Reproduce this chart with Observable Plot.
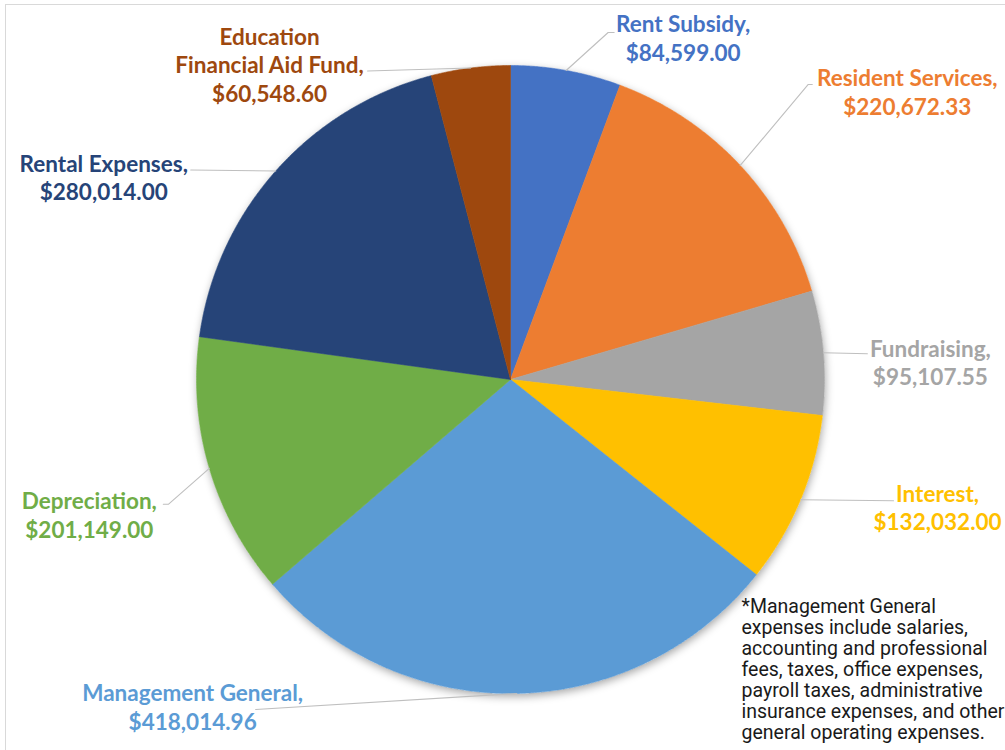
<!DOCTYPE html>
<html>
<head>
<meta charset="utf-8">
<script src="https://cdn.jsdelivr.net/npm/d3@7"></script>
<script src="https://cdn.jsdelivr.net/npm/@observablehq/plot@0.6"></script>
<style>
  html, body { margin: 0; padding: 0; background: #fff; }
  #wrap { position: relative; width: 1005px; height: 750px; overflow: hidden; }
  #border { position: absolute; left: 5px; top: 4px; width: 1010px; height: 760px;
            border-top: 1px solid #d9d9d9; border-left: 1px solid #d9d9d9; pointer-events: none; }
</style>
</head>
<body>
<div id="wrap"><div id="border"></div></div>
<script>
// ---- data ----
const categories = ["Rent Subsidy", "Resident Services", "Fundraising", "Interest",
  "Management General", "Depreciation", "Rental Expenses", "Education Financial Aid Fund"];
const values = [84599.00, 220672.33, 95107.55, 132032.00, 418014.96, 201149.00, 280014.00, 60548.60];
const labelNames = ["Rent Subsidy,", "Resident Services,", "Fundraising,", "Interest,",
  "Management General,", "Depreciation,", "Rental Expenses,", "Education\nFinancial Aid Fund,"];
const footnoteLines = [
  "*Management General",
  "expenses include salaries,",
  "accounting and professional",
  "fees, taxes, office expenses,",
  "payroll taxes, administrative",
  "insurance expenses, and other",
  "general operating expenses."
];

// ---- styles / layout ----
const colors = ["#4472C4", "#ED7D31", "#A5A5A5", "#FFC000", "#5B9BD5", "#70AD47", "#264478", "#9E480E"];
const W = 1005, H = 750;
const CX = 510, CY = 379, R = 314;
// label layout: offsets from the slice's outer mid point: leader path points, text center
const labelLayout = [
  {leader: [[42, -38], [48, -38]], text: [117, -33]},
  {leader: [[68, -81], [72, -81]], text: [167, -74]},
  {leader: [[44, 1]], text: [107, 9]},
  {leader: [[93, 1]], text: [137, 7]},
  {leader: [[-261, 16]], text: [-324, 13]},
  {leader: [[-41, 36], [-46, 36]], text: [-120, 46]},
  {leader: [[-85, -1]], text: [-172, 6]},
  {leader: [[-103, 3]], text: [-201, -4]}
];

const fmt = d3.format("$,.2f");
const rows = categories.map((c, i) => ({name: c, value: values[i], label: labelNames[i] + "\n" + fmt(values[i]), color: colors[i]}));
const arcs = d3.pie().sort(null).value(d => d.value).startAngle(0).endAngle(2 * Math.PI)(rows);

const px = a => CX + R * Math.sin(a);
const py = a => CY - R * Math.cos(a);

// slice polygons
const slicePts = [];
arcs.forEach(a => {
  slicePts.push({name: a.data.name, x: CX, y: CY});
  const n = Math.max(4, Math.ceil((a.endAngle - a.startAngle) / 0.005));
  for (let k = 0; k <= n; k++) {
    const t = a.startAngle + (a.endAngle - a.startAngle) * k / n;
    slicePts.push({name: a.data.name, x: px(t), y: py(t)});
  }
  slicePts.push({name: a.data.name, x: CX, y: CY});
});

// leaders and labels
const leaderPts = [];
const labels = [];
arcs.forEach((a, i) => {
  const mid = (a.startAngle + a.endAngle) / 2;
  const ex = px(mid), ey = py(mid);
  const L = labelLayout[i];
  leaderPts.push({name: a.data.name, x: ex, y: ey});
  L.leader.forEach(([dx, dy]) => leaderPts.push({name: a.data.name, x: ex + dx, y: ey + dy}));
  labels.push({name: a.data.name, label: a.data.label, x: ex + L.text[0], y: ey + L.text[1]});
});

const plot = Plot.plot({
  width: W, height: H,
  margin: 0,
  x: {domain: [0, W], range: [0, W], axis: null},
  y: {domain: [0, H], range: [0, H], axis: null},
  color: {domain: categories, range: colors},
  marks: [
    Plot.dot([{x: CX, y: CY}], {x: "x", y: "y", r: R, fill: "#ffffff", stroke: "none"}),
    Plot.line(slicePts, {x: "x", y: "y", z: "name", fill: "name", stroke: "name", strokeWidth: 0.6, curve: "linear"}),
    Plot.line(leaderPts, {x: "x", y: "y", z: "name", stroke: "#BFBFBF", strokeWidth: 1.1}),
    Plot.text(labels, {x: "x", y: "y", text: "label", fill: "name", fontSize: 22.5, fontWeight: "bold",
      fontFamily: "Lato", lineHeight: 1.27, textAnchor: "middle", lineAnchor: "middle"}),
    Plot.text([footnoteLines.join("\n")], {frameAnchor: "top-left", dx: 741, dy: 598, text: d => d,
      fill: "#1a1a1a", fontSize: 19.5, fontFamily: "Roboto", lineHeight: 1.07, textAnchor: "start", lineAnchor: "top"})
  ]
});

// soft shadow behind the pie
const svg = d3.select(plot);
svg.style("background", "transparent").style("position", "absolute").style("left", "0").style("top", "0");
const defs = svg.insert("defs", ":first-child");
const f = defs.append("filter").attr("id", "pieShadow").attr("x", "-20%").attr("y", "-20%").attr("width", "140%").attr("height", "140%");
f.append("feDropShadow").attr("dx", 1).attr("dy", 3).attr("stdDeviation", 4).attr("flood-color", "#000").attr("flood-opacity", 0.35);
svg.select("g[aria-label=dot]").attr("filter", "url(#pieShadow)");

document.getElementById("wrap").prepend(plot);
</script>
</body>
</html>
